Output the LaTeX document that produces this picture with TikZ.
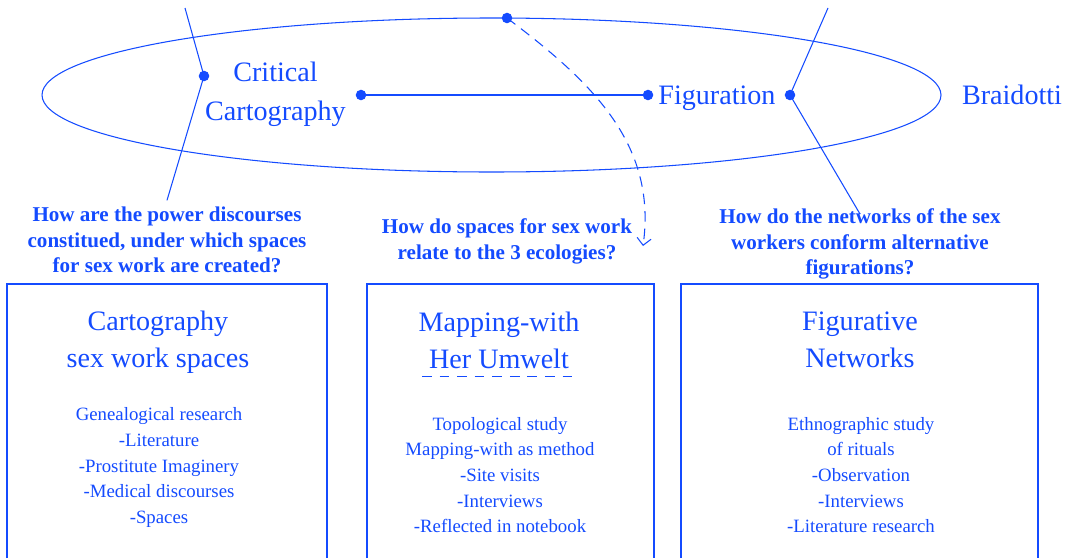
\documentclass[tikz,border=0pt]{standalone}
\usepackage{fontspec}
\setmainfont{Liberation Serif}
\usetikzlibrary{arrows.meta}
\definecolor{mapblue}{RGB}{20,75,255}

\begin{document}
\begin{tikzpicture}[x=0.02cm,y=0.02cm,line width=0.6pt,color=mapblue,
  big/.style={font=\fontsize{16}{22}\selectfont,align=center},
  quest/.style={font=\bfseries\fontsize{12}{14.7}\selectfont,align=center},
  boxtitle/.style={font=\fontsize{16}{21}\selectfont,align=center},
  boxlist/.style={font=\fontsize{10.7}{14.6}\selectfont,align=center}]
\useasboundingbox (0,0) rectangle (1065,-558);
% the big ellipse and its points
\draw (491.5,-95) ellipse [x radius=449.5, y radius=77];
\coordinate (top) at (507,-18);
\coordinate (crit) at (361,-95);
\coordinate (fig) at (648,-95);
\coordinate (cart) at (204,-76);
\coordinate (brai) at (790,-95);
\coordinate (cartup) at (185,-8);
\coordinate (braiup) at (828,-8);
\node[big] (crittxt) at (275.5,-94.5) {Critical\\Cartography};
\node[big,anchor=west] (figtxt) at (652,-98) {Figuration};
\node[big] (braitxt) at (1012,-95) {Braidotti};
% questions
\node[quest] (q1) at (167,-240) {How are the power discourses\\constitued, under which spaces\\for sex work are created?};
\node[quest] (q2) at (507,-241.5) {How do spaces for sex work\\relate to the 3 ecologies?};
\node[quest] (q3) at (860,-244) {How do the networks of the sex\\workers conform alternative\\figurations?};
\coordinate (q2end) at (643,-246);
\coordinate (q3end) at (860,-214);
% lines
\draw (crit) -- (fig);
\draw (cartup) -- (cart) -- (q1.north);
\draw (braiup) -- (brai) -- (q3end);
\draw[dash pattern=on 6pt off 4pt,-{Straight Barb[length=4pt,width=8pt]}] (top) to[out=-37,in=82] (q2end);
\foreach \p in {top,crit,fig,cart,brai} \fill (\p) circle (3pt);
% boxes
\draw (7,-558) |- (327,-284) -- (327,-558);
\draw (367,-558) |- (654,-284) -- (654,-558);
\draw (681,-558) |- (1038,-284) -- (1038,-558);
\node[boxtitle] (cartitle) at (158,-342) {Cartography\\sex work spaces};
\node[boxlist] (cartlist) at (159,-467.5) {Genealogical research\\-Literature\\-Prostitute Imaginery\\-Medical discourses\\-Spaces};
\node[boxtitle] (maptitle) at (499,-340) {Mapping-with\\Her Umwelt};
\draw[dash pattern=on 5.5pt off 4.5pt] (422,-376.5) -- (576,-376.5);
\node[boxlist] (maplist) at (500,-475) {Topological study\\Mapping-with as method\\-Site visits\\-Interviews\\-Reflected in notebook};
\node[boxtitle] (figtitle) at (860,-340) {Figurative\\Networks};
\node[boxlist] (figlist) at (861,-475) {Ethnographic study\\of rituals\\-Observation\\-Interviews\\-Literature research};
\end{tikzpicture}
\end{document}
